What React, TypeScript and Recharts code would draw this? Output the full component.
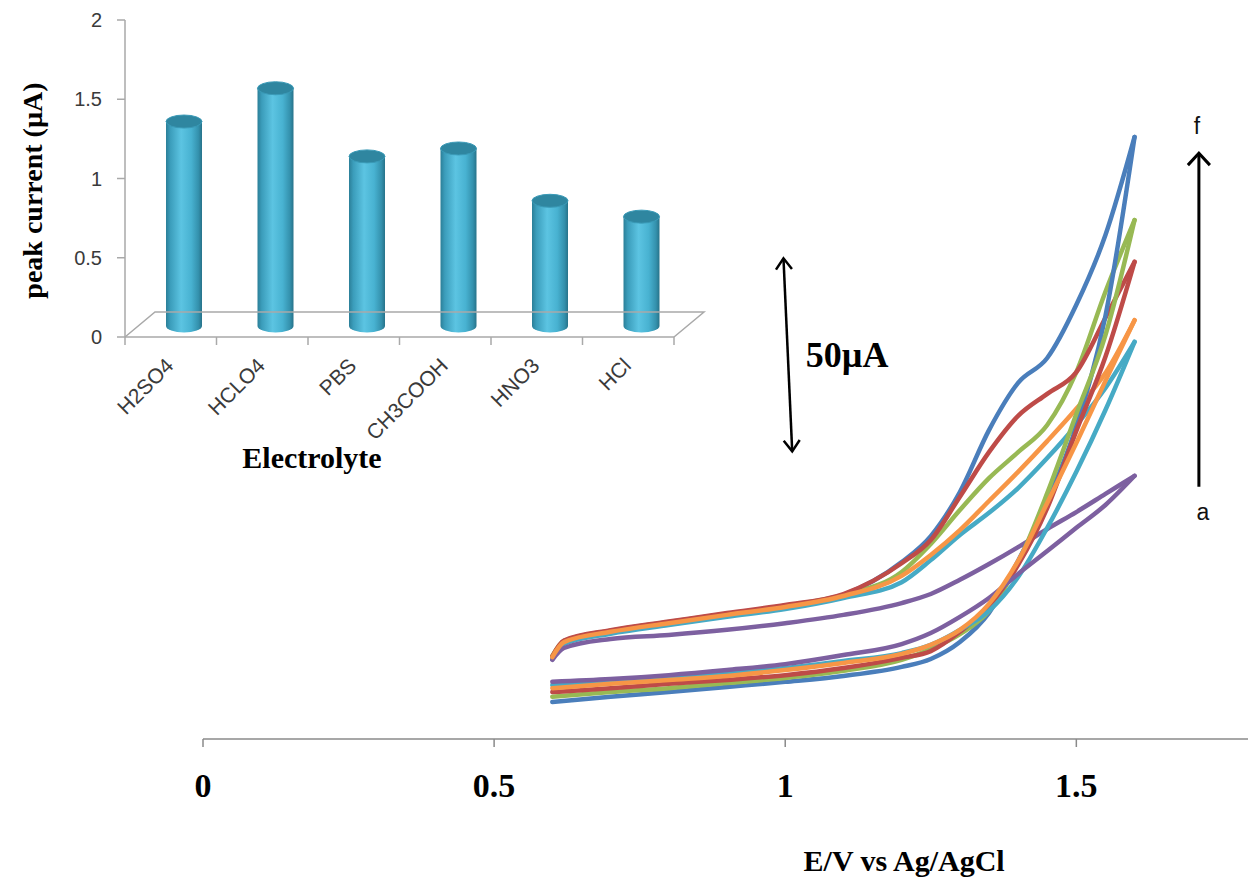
import React from 'react';
import { LineChart, Line, XAxis, YAxis, ReferenceLine, BarChart, Bar, Label } from 'recharts';

// ---------- Main CV data (E in V, current in µA, arbitrary baseline) ----------
const potentialsUpper = [0.6, 0.62, 0.7, 0.8, 0.9, 1.0, 1.1, 1.2, 1.25, 1.3, 1.35, 1.4, 1.45, 1.5, 1.55, 1.6];
const potentialsLower = [0.6, 0.7, 0.8, 0.9, 1.0, 1.1, 1.2, 1.25, 1.3, 1.35, 1.4, 1.45, 1.5, 1.55, 1.6];

// a (purple)
const aUpper = [20.1, 23.1, 25.4, 26.4, 27.7, 29.4, 31.5, 34.5, 36.8, 40.4, 44.4, 48.7, 53.3, 57.6, 62.2, 66.8];
const aLower = [14.5, 15.2, 16.2, 17.5, 19.0, 21.3, 24.1, 26.9, 31.0, 35.8, 41.9, 47.7, 53.6, 59.4, 66.8];
// b (cyan)
const bUpper = [20.3, 24.1, 26.7, 28.9, 31.0, 33.0, 35.8, 39.8, 45.4, 51.8, 57.4, 63.7, 71.3, 79.7, 89.1, 100.8];
const bLower = [13.7, 14.5, 15.5, 16.8, 18.0, 19.8, 21.8, 23.9, 27.7, 32.5, 41.1, 53.6, 67.8, 83.5, 100.8];
// c (orange)
const cUpper = [20.8, 24.6, 27.2, 29.4, 31.5, 33.5, 36.3, 41.4, 46.7, 53.0, 60.4, 67.8, 75.6, 83.8, 92.9, 106.3];
const cLower = [12.9, 14.0, 15.0, 16.0, 17.5, 19.3, 21.6, 23.9, 27.7, 34.3, 45.2, 59.9, 75.1, 90.9, 106.3];
// d (red)
const dUpper = [21.0, 25.0, 27.6, 29.8, 32.0, 34.0, 36.8, 44.6, 50.5, 61.5, 72.8, 82.0, 87.6, 93.1, 106.9, 121.1];
const dLower = [11.9, 12.9, 14.0, 15.0, 16.2, 18.0, 20.6, 22.3, 27.2, 33.8, 44.2, 58.6, 78.2, 97.0, 121.1];
// e (green)
const eUpper = [21.1, 24.9, 27.5, 29.7, 31.8, 33.8, 36.6, 42.4, 49.5, 58.1, 66.2, 72.8, 79.7, 93.1, 113.5, 131.7];
const eLower = [10.7, 11.9, 12.9, 14.2, 15.5, 17.3, 20.1, 22.8, 26.6, 32.5, 44.7, 62.4, 82.5, 102.5, 131.7];
// f (blue)
const fUpper = [20.8, 24.8, 27.4, 29.6, 31.7, 33.8, 36.6, 44.9, 51.5, 62.7, 78.4, 90.4, 96.7, 110.2, 127.9, 152.8];
const fLower = [9.4, 10.7, 11.9, 13.2, 14.5, 16.0, 18.3, 20.3, 24.6, 32.0, 45.2, 60.4, 79.4, 107.4, 152.8];

const xTicks = [0, 0.5, 1, 1.5];

// ---------- Inset bar data ----------
const electrolytes = ['H2SO4', 'HCLO4', 'PBS', 'CH3COOH', 'HNO3', 'HCl'];
const peakCurrent = [1.29, 1.5, 1.07, 1.12, 0.79, 0.69];
const insetTicks = [0, 0.5, 1, 1.5, 2];

const toPts = (xs: number[], ys: number[]) => xs.map((x, i) => ({ x, y: ys[i] }));

const curves = [
  { key: 'f', color: '#4a7ebb', up: fUpper, low: fLower },
  { key: 'e', color: '#98b954', up: eUpper, low: eLower },
  { key: 'd', color: '#be4b48', up: dUpper, low: dLower },
  { key: 'b', color: '#46aac5', up: bUpper, low: bLower },
  { key: 'a', color: '#7d60a0', up: aUpper, low: aLower },
  { key: 'c', color: '#f79646', up: cUpper, low: cLower },
];

const barData = electrolytes.map((name, i) => ({ name, value: peakCurrent[i] }));

const SERIF = '"Liberation Serif", "Times New Roman", serif';
const SANS = '"Liberation Sans", Arial, sans-serif';

const INSET_W = 720;
const INSET_H = 480;
const INSET_LEFT = 125;
const INSET_RIGHT_MARGIN = 46;
const INSET_PLOT_W = INSET_W - INSET_LEFT - INSET_RIGHT_MARGIN;

function chevron(tx: number, ty: number, fx: number, fy: number, L: number, W: number) {
  const dx = tx - fx;
  const dy = ty - fy;
  const len = Math.sqrt(dx * dx + dy * dy) || 1;
  const ux = dx / len;
  const uy = dy / len;
  const nx = -uy;
  const ny = ux;
  const bx = tx - ux * L;
  const by = ty - uy * L;
  return `M${bx + nx * W},${by + ny * W} L${tx},${ty} L${bx - nx * W},${by - ny * W}`;
}

const ScaleArrow = (p: any) => {
  const { x1, y1, x2, y2 } = p;
  const mx = (x1 + x2) / 2;
  const my = (y1 + y2) / 2;
  return (
    <g>
      <line x1={x1} y1={y1} x2={x2} y2={y2} stroke="#000" strokeWidth={2.5} />
      <path d={chevron(x1, y1, x2, y2, 11, 8)} fill="none" stroke="#000" strokeWidth={2.5} />
      <path d={chevron(x2, y2, x1, y1, 11, 8)} fill="none" stroke="#000" strokeWidth={2.5} />
      <text x={mx + 18} y={my + 12} fontFamily={SERIF} fontWeight="bold" fontSize={36} fill="#000">
        50µA
      </text>
    </g>
  );
};

const TrendArrow = (p: any) => {
  const { x1, y1, x2, y2 } = p;
  const topY = Math.min(y1, y2);
  const botY = Math.max(y1, y2);
  const topX = y1 < y2 ? x1 : x2;
  const botX = y1 < y2 ? x2 : x1;
  return (
    <g>
      <line x1={botX} y1={botY} x2={topX} y2={topY} stroke="#000" strokeWidth={3} />
      <path d={chevron(topX, topY, botX, botY, 12, 11)} fill="none" stroke="#000" strokeWidth={3} />
      <text x={topX - 2} y={topY - 19} textAnchor="middle" fontFamily={SANS} fontSize={23} fill="#111">f</text>
      <text x={botX + 4} y={botY + 33} textAnchor="middle" fontFamily={SANS} fontSize={23} fill="#111">a</text>
    </g>
  );
};

const MainTick = (p: any) => {
  const { x, y, payload } = p;
  return (
    <text x={x} y={y + 48} textAnchor="middle" fontFamily={SERIF} fontWeight="bold" fontSize={34} fill="#000">
      {payload.value}
    </text>
  );
};

const MainTitle = (p: any) => {
  const vb = p.viewBox || { x: 0, y: 0, width: 0 };
  return (
    <text x={vb.x + vb.width * 0.669} y={vb.y + 132} textAnchor="middle" fontFamily={SERIF} fontWeight="bold" fontSize={30} fill="#000">
      E/V vs Ag/AgCl
    </text>
  );
};

const Cylinder = (p: any) => {
  const { x, y, width, height, index } = p;
  if (x == null || y == null) return null;
  const dx = 13;
  const dy = -11;
  const left = x + dx;
  const top = y + dy;
  const bottom = y + height + dy;
  const rx = width / 2;
  const ry = 6.5;
  const id = `cylGrad${index}`;
  return (
    <g>
      <defs>
        <linearGradient id={id} x1="0" y1="0" x2="1" y2="0">
          <stop offset="0" stopColor="#2b7f98" />
          <stop offset="0.12" stopColor="#3b9dbb" />
          <stop offset="0.42" stopColor="#5cc4e2" />
          <stop offset="0.7" stopColor="#48b2d1" />
          <stop offset="0.9" stopColor="#3491ad" />
          <stop offset="1" stopColor="#27738a" />
        </linearGradient>
      </defs>
      <path
        d={`M${left},${top} L${left},${bottom} A${rx},${ry} 0 0 0 ${left + width},${bottom} L${left + width},${top} Z`}
        fill={`url(#${id})`}
      />
      <ellipse cx={left + rx} cy={top} rx={rx} ry={ry} fill="#2f86a0" stroke="#3a9ab7" strokeWidth={1} />
    </g>
  );
};

const Floor = (p: any) => {
  const { x1, y1, x2, y2 } = p;
  const ddx = 30;
  const ddy = -25;
  return (
    <path
      d={`M${x1},${y1} L${x1 + ddx},${y1 + ddy} L${x2 + ddx},${y2 + ddy} L${x2},${y2}`}
      fill="none"
      stroke="#a9a9a9"
      strokeWidth={1.5}
    />
  );
};

const CatTick = (p: any) => {
  const { x, y, payload, index } = p;
  const band = INSET_PLOT_W / electrolytes.length;
  const last = index === electrolytes.length - 1;
  return (
    <g>
      <line x1={x - band / 2} y1={y} x2={x - band / 2} y2={y + 8} stroke="#a9a9a9" strokeWidth={1.5} />
      {last && <line x1={x + band / 2} y1={y} x2={x + band / 2} y2={y + 8} stroke="#a9a9a9" strokeWidth={1.5} />}
      <text
        x={x + 4}
        y={y + 30}
        transform={`rotate(-45, ${x + 4}, ${y + 30})`}
        textAnchor="end"
        fontFamily={SANS}
        fontSize={21}
        fill="#3a3a3a"
      >
        {payload.value}
      </text>
    </g>
  );
};

const InsetYTitle = (p: any) => {
  const vb = p.viewBox || { x: 0, y: 0, height: 0 };
  const cx = 42;
  const cy = vb.y + vb.height * 0.5 + 12;
  return (
    <text x={cx} y={cy} transform={`rotate(-90, ${cx}, ${cy})`} textAnchor="middle" fontFamily={SERIF} fontWeight="bold" fontSize={28} fill="#000">
      peak current  (µA)
    </text>
  );
};

const InsetXTitle = (p: any) => {
  const vb = p.viewBox || { x: 0, y: 0, width: 0 };
  return (
    <text x={312} y={vb.y + 131} textAnchor="middle" fontFamily={SERIF} fontWeight="bold" fontSize={30} fill="#000">
      Electrolyte
    </text>
  );
};

export default function App() {
  return (
    <div style={{ position: 'absolute', left: 0, top: 0, width: 1248, height: 885, overflow: 'hidden', background: '#fff' }}>
      <div style={{ position: 'absolute', left: 0, top: 0 }}>
        <LineChart width={1251} height={885} margin={{ top: 108.6, right: 0, bottom: 86, left: 203 }}>
          <XAxis
            dataKey="x"
            type="number"
            domain={[0, 1.8]}
            ticks={xTicks}
            allowDataOverflow
            height={60}
            tickSize={8}
            axisLine={{ stroke: '#8a8a8a', strokeWidth: 1.5 }}
            tickLine={{ stroke: '#8a8a8a', strokeWidth: 1.5 }}
            tick={<MainTick />}
          >
            <Label content={<MainTitle />} />
          </XAxis>
          <YAxis type="number" domain={[0, 160]} hide width={0} allowDataOverflow />
          {curves.map((c) => (
            <Line
              key={c.key + 'u'}
              data={toPts(potentialsUpper, c.up)}
              dataKey="y"
              type="monotone"
              stroke={c.color}
              strokeWidth={4.5}
              strokeLinecap="round"
              dot={false}
              activeDot={false}
              isAnimationActive={false}
            />
          ))}
          {curves.map((c) => (
            <Line
              key={c.key + 'l'}
              data={toPts(potentialsLower, c.low)}
              dataKey="y"
              type="monotone"
              stroke={c.color}
              strokeWidth={4.5}
              strokeLinecap="round"
              dot={false}
              activeDot={false}
              isAnimationActive={false}
            />
          ))}
          <ReferenceLine
            segment={[{ x: 0.997, y: 122 }, { x: 1.012, y: 73 }]}
            ifOverflow="visible"
            shape={(p: any) => <ScaleArrow {...p} />}
          />
          <ReferenceLine
            segment={[{ x: 1.7105, y: 64 }, { x: 1.7105, y: 148.7 }]}
            ifOverflow="visible"
            shape={(p: any) => <TrendArrow {...p} />}
          />
        </LineChart>
      </div>
      <div style={{ position: 'absolute', left: 0, top: 0 }}>
        <BarChart
          width={INSET_W}
          height={INSET_H}
          data={barData}
          margin={{ top: 20, right: INSET_RIGHT_MARGIN, bottom: 43, left: 0 }}
          barSize={36}
        >
          <XAxis
            dataKey="name"
            height={100}
            tickLine={false}
            tickSize={0}
            tickMargin={0}
            interval={0}
            axisLine={{ stroke: '#a9a9a9', strokeWidth: 1.5 }}
            tick={<CatTick />}
          >
            <Label content={<InsetXTitle />} />
          </XAxis>
          <YAxis
            type="number"
            domain={[0, 2]}
            ticks={insetTicks}
            width={INSET_LEFT}
            tickSize={8}
            tickMargin={15}
            axisLine={{ stroke: '#a9a9a9', strokeWidth: 1.5 }}
            tickLine={{ stroke: '#a9a9a9', strokeWidth: 1.5 }}
            tick={{ fill: '#3a3a3a', fontSize: 20, fontFamily: SANS }}
          >
            <Label content={<InsetYTitle />} />
          </YAxis>
          <ReferenceLine y={0} ifOverflow="visible" shape={(p: any) => <Floor {...p} />} />
          <Bar dataKey="value" shape={(p: any) => <Cylinder {...p} />} isAnimationActive={false} />
        </BarChart>
      </div>
    </div>
  );
}
